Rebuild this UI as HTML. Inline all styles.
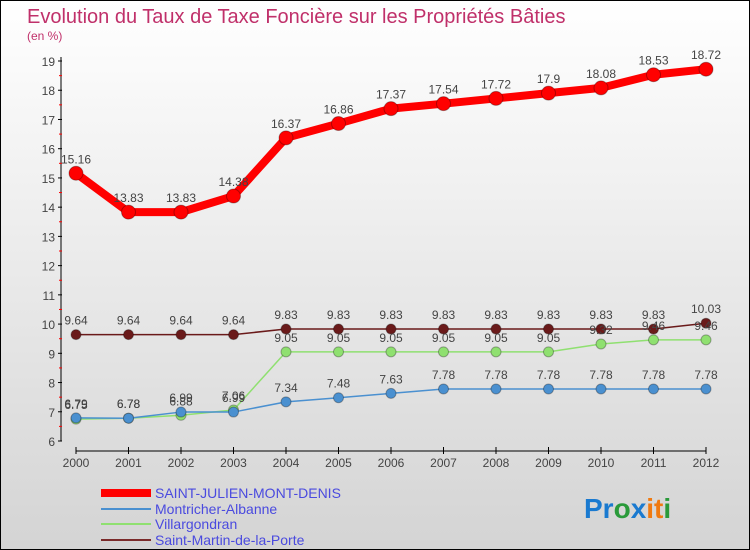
<!DOCTYPE html>
<html><head><meta charset="utf-8"><style>
body{margin:0}
#c{width:748px;height:548px;border:1px solid #000;background:linear-gradient(#fff,#d4d4d4);position:relative;font-family:"Liberation Sans",sans-serif;overflow:hidden}
</style></head><body>
<div id="c">
<svg id="s" width="748" height="548" xmlns="http://www.w3.org/2000/svg">
<text x="26" y="22" font-size="20" fill="#c0306a">Evolution du Taux de Taxe Foncière sur les Propriétés Bâties</text>
<text x="26" y="39" font-size="12" fill="#c0306a">(en %)</text>
<g id="axes"></g><g id="series"></g>
<g font-size="14" fill="#4a4adf">
<line x1="100" y1="492" x2="150" y2="492" stroke="#f00" stroke-width="8"/>
<text x="154" y="497">SAINT-JULIEN-MONT-DENIS</text>
<line x1="100" y1="508" x2="150" y2="508" stroke="#4a90d0" stroke-width="2"/>
<text x="154" y="513">Montricher-Albanne</text>
<line x1="100" y1="523" x2="150" y2="523" stroke="#8fe070" stroke-width="2"/>
<text x="154" y="528">Villargondran</text>
<line x1="100" y1="539" x2="150" y2="539" stroke="#7a2a2a" stroke-width="2"/>
<text x="154" y="544">Saint-Martin-de-la-Porte</text>
</g>
<text x="583" y="517" font-size="28" font-weight="bold"><tspan fill="#1a7ad0">Pr</tspan><tspan fill="#2a9a3a">o</tspan><tspan fill="#1a7ad0">x</tspan><tspan fill="#f07a10">it</tspan><tspan fill="#2a9a3a">i</tspan></text>
</svg></div>
<script>
const years=[2000,2001,2002,2003,2004,2005,2006,2007,2008,2009,2010,2011,2012];
const yTicks=[6,7,8,9,10,11,12,13,14,15,16,17,18,19];
const sjmd=[15.16,13.83,13.83,14.38,16.37,16.86,17.37,17.54,17.72,17.9,18.08,18.53,18.72];
const montricher=[6.79,6.78,6.99,6.99,7.34,7.48,7.63,7.78,7.78,7.78,7.78,7.78,7.78];
const villargondran=[6.75,6.78,6.88,7.06,9.05,9.05,9.05,9.05,9.05,9.05,9.32,9.46,9.46];
const stmartin=[9.64,9.64,9.64,9.64,9.83,9.83,9.83,9.83,9.83,9.83,9.83,9.83,10.03];
const NS="http://www.w3.org/2000/svg";
const x=i=>75+i*52.5, y=v=>440-(v-6)*29.23;
function mk(t,a,p){const e=document.createElementNS(NS,t);for(const k in a)e.setAttribute(k,a[k]);(p||document.getElementById('series')).appendChild(e);return e;}
const ax=document.getElementById('axes');
let e=mk('line',{x1:60,y1:56,x2:60,y2:440,stroke:'#000'},ax);


e=mk('line',{x1:75,y1:450,x2:705,y2:450,stroke:'#000'},ax);


yTicks.forEach(v=>{mk('line',{x1:57,y1:y(v),x2:61,y2:y(v),stroke:'#000'},ax);
 if(v<19)mk('line',{x1:58,y1:y(v+0.5),x2:61,y2:y(v+0.5),stroke:'#f00'},ax);
 const t=mk('text',{x:54,y:y(v)+5,'font-size':12,'text-anchor':'end',fill:'#444'},ax);t.textContent=v;
 
 });
years.forEach((yr,i)=>{mk('line',{x1:x(i),y1:446,x2:x(i),y2:453,stroke:'#000'},ax);
 const t=mk('text',{x:x(i),y:466,'font-size':12,'text-anchor':'middle',fill:'#444'},ax);t.textContent=yr;
 
 });
function series(d,col,w,r,name,lab){
 const p=mk('polyline',{points:d.map((v,i)=>x(i)+','+y(v)).join(' '),fill:'none',stroke:col,'stroke-width':w,'stroke-linejoin':'round'});
 
 
 d.forEach((v,i)=>{const c=mk('circle',{cx:x(i),cy:y(v),r:r,fill:col,stroke:'rgba(0,0,0,0.3)'});
  
  
  const t=mk('text',{x:x(i),y:y(v)-10,'font-size':12,'text-anchor':'middle',fill:'#444'});t.textContent=v;
  
  });
}
series(stmartin,'#6a1a1a',1.5,5,'saint-martin');
series(villargondran,'#8fe070',1.5,5,'villargondran');
series(montricher,'#4a90d0',1.5,5,'montricher');
series(sjmd,'#f00',8,7,'saint-julien');
</script>
</body></html>
